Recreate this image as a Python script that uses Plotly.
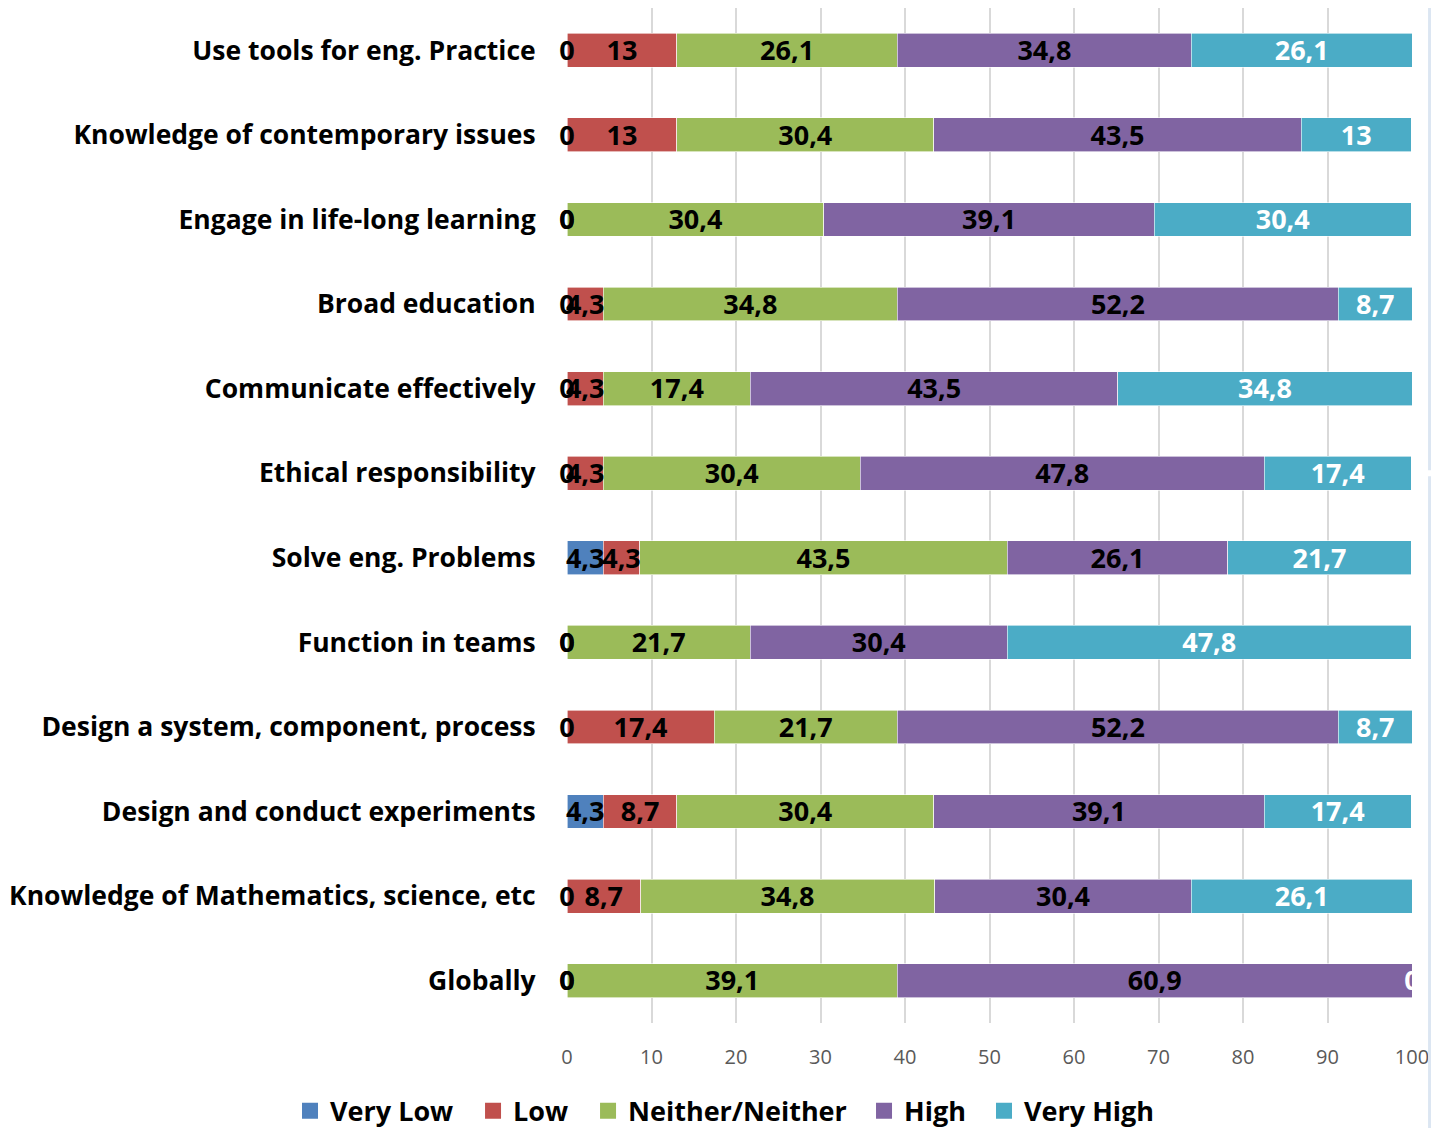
import plotly.graph_objects as go

categories = [
    "Use tools for eng. Practice",
    "Knowledge of contemporary issues",
    "Engage in life-long learning",
    "Broad education",
    "Communicate effectively",
    "Ethical responsibility",
    "Solve eng. Problems",
    "Function in teams",
    "Design a system, component, process",
    "Design and conduct experiments",
    "Knowledge of Mathematics, science, etc",
    "Globally",
]

series_names = ["Very Low", "Low", "Neither/Neither", "High", "Very High"]

very_low = [0, 0, 0, 0, 0, 0, 4.3, 0, 0, 4.3, 0, 0]
low = [13, 13, 0, 4.3, 4.3, 4.3, 4.3, 0, 17.4, 8.7, 8.7, 0]
neither = [26.1, 30.4, 30.4, 34.8, 17.4, 30.4, 43.5, 21.7, 21.7, 30.4, 34.8, 39.1]
high = [34.8, 43.5, 39.1, 52.2, 43.5, 47.8, 26.1, 30.4, 52.2, 39.1, 30.4, 60.9]
very_high = [26.1, 13, 30.4, 8.7, 34.8, 17.4, 21.7, 47.8, 8.7, 17.4, 26.1, 0]

series_values = [very_low, low, neither, high, very_high]
colors = ["#4F81BD", "#C0504D", "#9BBB59", "#8064A2", "#4BACC6"]
label_colors = ["black", "black", "black", "black", "white"]

x_ticks = list(range(0, 101, 10))

# one legend box per series, left edges (paper fraction of plot width)
legend_ids = ["legend", "legend2", "legend3", "legend4", "legend5"]
legend_x = [-0.3278, -0.1112, 0.0249, 0.3515, 0.4935]

FONT = "Open Sans"
LABEL_NUDGE = 0.035  # small downward nudge of data labels (category units)


def fmt(v):
    if float(v).is_integer():
        return str(int(v))
    return ("%g" % v).replace(".", ",")


fig = go.Figure()

for name, vals, col in zip(series_names, series_values, colors):
    fig.add_trace(go.Bar(
        y=categories, x=vals, name=name, orientation="h",
        marker=dict(color=col, line=dict(color="white", width=0.6)),
        hoverinfo="x+y+name", showlegend=False,
    ))

# legend entries with larger square swatches
for name, col, lid in zip(series_names, colors, legend_ids):
    fig.add_trace(go.Scatter(
        x=[None], y=[None], mode="markers", name=name,
        marker=dict(symbol="square", size=17, color=col),
        legend=lid, showlegend=True,
    ))

# data labels centred on each segment (on an overlaid index axis)
n = len(categories)
idx = list(range(n))
starts = [0.0] * n
for name, vals, tc in zip(series_names, series_values, label_colors):
    centers = [s + v / 2 for s, v in zip(starts, vals)]
    fig.add_trace(go.Scatter(
        y=idx, x=centers, mode="text", yaxis="y2",
        text=[fmt(v) for v in vals],
        textposition="middle center",
        textfont=dict(family=FONT, size=27, color=tc, weight="bold"),
        showlegend=False, hoverinfo="skip", cliponaxis=False,
    ))
    starts = [s + v for s, v in zip(starts, vals)]

legend_style = dict(
    orientation="h", xref="paper", xanchor="left",
    y=-0.087, yanchor="middle",
    font=dict(family=FONT, size=27, color="black", weight="bold"),
    itemwidth=30, bgcolor="rgba(0,0,0,0)",
)
legends = {}
for lid, lx in zip(legend_ids, legend_x):
    legends[lid] = dict(legend_style, x=lx)

fig.update_layout(
    barmode="stack",
    bargap=0.6,
    width=1431, height=1128,
    margin=dict(l=567, r=19, t=8, b=105, autoexpand=False),
    plot_bgcolor="white", paper_bgcolor="white",
    font=dict(family=FONT),
    xaxis=dict(
        range=[0, 100], tickvals=x_ticks, ticktext=[str(t) for t in x_ticks],
        showgrid=True, gridcolor="#D9D9D9", gridwidth=2,
        zeroline=False, showline=False, automargin=False,
        tickfont=dict(family=FONT, size=20, color="#595959"),
        ticks="outside", ticklen=16, tickcolor="rgba(0,0,0,0)",
    ),
    yaxis=dict(
        range=[n - 0.5, -0.5], categoryorder="array", categoryarray=categories,
        showgrid=False, zeroline=False, showline=False, automargin=False,
        tickfont=dict(family=FONT, size=26.5, color="black", weight="bold"),
        ticks="outside", ticklen=25, tickcolor="rgba(0,0,0,0)",
    ),
    yaxis2=dict(
        overlaying="y", range=[n - 0.5 - LABEL_NUDGE, -0.5 - LABEL_NUDGE],
        visible=False, showgrid=False, zeroline=False,
    ),
    showlegend=True,
    shapes=[
        dict(type="rect", xref="paper", yref="paper", x0=1.019, x1=1.03,
             y0=0.5446, y1=1.0, fillcolor="#DCE6F2", line=dict(width=0), layer="above"),
        dict(type="rect", xref="paper", yref="paper", x0=1.019, x1=1.03,
             y0=-0.11, y1=0.5387, fillcolor="#DCE6F2", line=dict(width=0), layer="above"),
    ],
    **legends,
)

fig.write_html("out.html")
